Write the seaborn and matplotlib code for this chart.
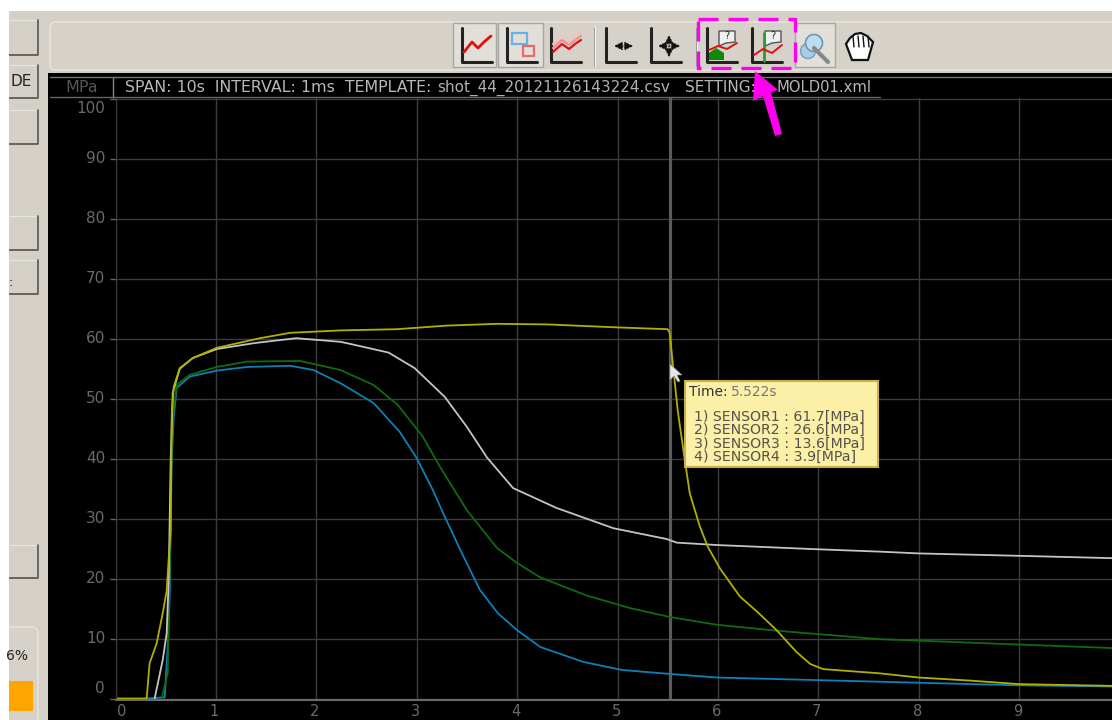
import matplotlib
matplotlib.use('Agg')
import matplotlib.pyplot as plt
import matplotlib.patches as mp
import pandas as pd
import seaborn as sns

sensor1_t = [0, 0.31, 0.34, 0.41, 0.47, 0.51, 0.53, 0.55, 0.56, 0.58, 0.64, 0.77, 1.01, 1.44, 1.74, 2.24, 2.8, 3.3,
             3.8, 4.3, 5, 5.5, 5.52, 5.55, 5.6, 5.67, 5.72, 5.82, 5.9, 6.02, 6.22, 6.39, 6.59, 6.78, 6.92, 7.05,
             7.61, 8, 8.5, 9, 9.95]
sensor1_v = [0, 0, 5.9, 9.2, 14.2, 18, 23.4, 28, 47.3, 52, 55.1, 56.8, 58.5, 60.1, 61, 61.4, 61.6, 62.2,
             62.5, 62.4, 61.9, 61.6, 61, 56, 48, 39.8, 34.2, 28.7, 25.3, 21.7, 17, 14.5, 11.3, 7.8, 5.75, 4.9,
             4.2, 3.5, 3, 2.4, 2.1]
sensor2_t = [0.39, 0.47, 0.51, 0.53, 0.55, 0.57, 0.64, 0.77, 1.01, 1.39, 1.8, 2.24, 2.35, 2.72, 2.98, 3.28, 3.5, 3.7,
             3.96, 4.39, 4.96, 5.49, 5.59, 5.99, 6.98, 7.61, 8, 9, 9.95]
sensor2_v = [0, 6.4, 10.9, 20, 40, 51, 55, 56.8, 58.3, 59.3, 60.1, 59.5, 59.1, 57.7, 55.1, 50.3, 45.3, 40.2,
             35.1, 31.8, 28.4, 26.6, 26, 25.6, 24.9, 24.5, 24.2, 23.8, 23.4]
sensor3_t = [0.46, 0.52, 0.53, 0.55, 0.57, 0.61, 0.74, 1.01, 1.31, 1.84, 2.24, 2.57, 2.81, 3.06, 3.23, 3.5, 3.8, 4.0,
             4.23, 4.69, 5.12, 5.52, 5.99, 6.59, 7.61, 9, 9.95]
sensor3_v = [0, 4.2, 12.5, 35, 47, 52.3, 54, 55.3, 56.2, 56.3, 54.8, 52.3, 49, 43.7, 38.7, 31.4, 25.1, 22.6,
             20.2, 17.2, 15.1, 13.6, 12.3, 11.3, 9.9, 9, 8.4]
sensor4_t = [0.3, 0.49, 0.52, 0.54, 0.56, 0.58, 0.61, 0.74, 1.01, 1.31, 1.74, 1.97, 2.24, 2.57, 2.83, 3.0, 3.16, 3.28,
             3.46, 3.63, 3.81, 4.0, 4.23, 4.66, 5.05, 5.52, 5.99, 7.61, 9, 9.95]
sensor4_v = [0, 0.2, 8.6, 17, 40, 47, 51.8, 53.7, 54.7, 55.3, 55.5, 54.8, 52.6, 49.3, 44.5, 40.1, 34.8, 30.3,
             23.9, 18.1, 14.2, 11.4, 8.6, 6.1, 4.75, 4.1, 3.5, 2.8, 2.2, 2]
sensor_names = ['SENSOR4', 'SENSOR3', 'SENSOR2', 'SENSOR1']
sensor_colors = ['#0f7fb5', '#0f6b0f', '#c4c4c4', '#b0b000']
cursor_time = 5.52
tip_lines = ['1) SENSOR1 : 61.7[MPa]', '2) SENSOR2 : 26.6[MPa]', '3) SENSOR3 : 13.6[MPa]', '4) SENSOR4 : 3.9[MPa]']
x_ticks = list(range(0, 10))
y_ticks = list(range(0, 101, 10))

frames = []
for name, t, v in zip(['SENSOR1', 'SENSOR2', 'SENSOR3', 'SENSOR4'],
                      [sensor1_t, sensor2_t, sensor3_t, sensor4_t],
                      [sensor1_v, sensor2_v, sensor3_v, sensor4_v]):
    frames.append(pd.DataFrame({'time': t, 'mpa': v, 'sensor': name}))
df = pd.concat(frames)

sns.set_style('white')
plt.rcParams['font.family'] = ['DejaVu Sans']
W, H = 1112, 720
fig = plt.figure(figsize=(W / 100, H / 100), dpi=100, facecolor='white')

# background window, in pixel coordinates
ui = fig.add_axes([0, 0, 1, 1], zorder=0)
ui.set_xlim(0, W)
ui.set_ylim(H, 0)
ui.axis('off')
ui.add_patch(mp.Rectangle((9, 11), W - 9, H - 11, fc='#d4d0c8', ec='none'))
ui.add_patch(mp.FancyBboxPatch((50, 22), W, 48, boxstyle='round,pad=0,rounding_size=6', fc='#d6d2ca', ec='#e8e6e0', lw=1))
ui.add_patch(mp.Rectangle((48, 73), W - 48, H - 73, fc='black', ec='none'))

for y0, y1 in [(20, 55), (65, 98), (110, 144), (216, 250), (260, 294), (545, 578)]:
    ui.add_patch(mp.Rectangle((9, y0), 29, y1 - y0, fc='#d4d0c8', ec='none'))
    ui.plot([9, 38, 38], [y0, y0, y1], color='#e8e6e0', lw=0.8)
    ui.plot([9, 38, 38], [y1, y1, y0], color='#55534f', lw=1.2)
ui.text(10, 81, 'DE', fontsize=11, color='#222222', va='center')
ui.text(9, 282, ':', fontsize=9, color='#222222', va='center')
ui.add_patch(mp.FancyBboxPatch((2, 627), 36, 120, boxstyle='round,pad=0,rounding_size=6', fc='#d6d2ca', ec='#e8e6e0', lw=1))
ui.add_patch(mp.Rectangle((0, 0), 9, H, fc='white', ec='none', zorder=3))
ui.add_patch(mp.Rectangle((9, 681), 24, 30, fc='#ffa500', ec='none'))
ui.text(6, 656, '6%', fontsize=10, color='#222222', va='center', clip_on=True)

# header strip
ui.plot([50, W], [77, 77], color='#777777', lw=1)
ui.plot([50, 880], [97, 97], color='#666666', lw=1)
ui.plot([113, 113], [78, 97], color='#888888', lw=1)
ui.text(82, 88, 'MPa', fontsize=11.5, color='#555555', ha='center', va='center')
ui.text(125, 88, 'SPAN: 10s  INTERVAL: 1ms  TEMPLATE:', fontsize=11.4, color='#b8b8b8', va='center')
ui.text(437, 88, 'shot_44_20121126143224.csv', fontsize=11, color='#b0b0b0', va='center')
ui.text(685, 88, 'SETTING:', fontsize=11, color='#b8b8b8', va='center')
ui.text(776, 88, 'MOLD01.xml', fontsize=10.6, color='#b8b8b8', va='center')

# toolbar
def axes_icon(x0):
    ui.plot([x0, x0, x0 + 30], [28, 62, 62], color='#222222', lw=2.2)

for x0, x1 in [(453, 496), (498, 543), (795, 835)]:
    ui.add_patch(mp.Rectangle((x0, 23), x1 - x0, 44, fc='#e2dfd8', ec='#a8a6a0', lw=1))
for x0 in [462, 507, 551, 606, 651, 707, 752]:
    axes_icon(x0)
ui.plot([464, 472, 478, 484, 491], [52, 42, 48, 42, 36], color='#e01010', lw=2)
ui.add_patch(mp.Rectangle((512, 33), 15, 11, fc='none', ec='#6ab0e8', lw=1.6))
ui.add_patch(mp.Rectangle((523, 46), 11, 10, fc='none', ec='#e86a6a', lw=1.6))
for off, col in [(-8, '#f4c0c0'), (-4, '#f09090'), (0, '#e01010')]:
    ui.plot([553, 562, 569, 575, 581], [52 + off, 44 + off, 49 + off, 44 + off, 40 + off], color=col, lw=1.6)
for sx in [595, 697]:
    ui.plot([sx, sx], [27, 66], color='#f4f4f0', lw=1.5)
    ui.plot([sx - 1, sx - 1], [27, 66], color='#9a9a96', lw=0.7)
for a, b in [((611, 46), (636, 46)), ((655, 46), (683, 46)), ((669, 32), (669, 60))]:
    ui.annotate('', a, b, arrowprops=dict(arrowstyle='<|-|>', color='#111111', lw=0.8, ls=':', mutation_scale=13))
ui.add_patch(mp.Polygon([(709, 60), (709, 53), (716, 48), (724, 53), (724, 60)], fc='#0a8a0a', ec='none'))
ui.plot([709, 718, 727, 737], [50, 46, 49, 43], color='#e01010', lw=1.4)
ui.plot([764, 764], [33, 61], color='#2f9a2f', lw=2)
ui.plot([754, 763, 772, 782], [55, 49, 53, 45], color='#e01010', lw=1.4)
for x0 in [719, 765]:
    ui.add_patch(mp.Polygon([(x0, 31), (x0 + 16, 31), (x0 + 16, 42), (x0 + 7, 43), (x0, 46)], fc='#f0f0f0', ec='#555555', lw=1))
    ui.text(x0 + 8, 36, '?', fontsize=7, ha='center', va='center', color='#222222')
ui.plot([814, 828], [48, 62], color='#888888', lw=3)
ui.add_patch(mp.Circle((808, 51), 7.5, fc='#a8cde8', ec='#7a9cb8', lw=1))
ui.add_patch(mp.Circle((814, 43), 8.5, fc='#bcdcf2', ec='#6f94b4', lw=1.2))
ui.add_patch(mp.Polygon([(852, 60), (846, 44), (850, 38), (855, 34), (861, 33), (867, 36), (873, 42), (868, 60)],
                        fc='white', ec='#111111', lw=1.6))
for hx in [853, 858, 863, 868]:
    ui.plot([hx, hx + 1], [36, 47], color='#111111', lw=1)

# chart
ax = fig.add_axes([115.5 / W, 1 - 700 / H, (W - 115.5) / W, (700 - 98) / H], zorder=1)
ax.patch.set_alpha(0)
ax.set_xlim(0, (W - 115.5) / 100.4)
ax.set_ylim((698.5 - 700) / 5.995, (698.5 - 98) / 5.995)
for s in ['top', 'right']:
    ax.spines[s].set_visible(False)
ax.spines['left'].set_color('#3c3c3c')
ax.spines['bottom'].set_color('#6a6a6a')
ax.spines['bottom'].set_linewidth(1.5)
ax.set_xticks(x_ticks)
ax.set_yticks(y_ticks)
ax.grid(True, color='#3c3c3c', lw=1)
ax.set_axisbelow(True)
ax.tick_params(axis='y', length=4, width=1, color='#666666', left=True, labelleft=False)
ax.tick_params(axis='x', length=0, labelbottom=False)
ax.axvline(cursor_time, color='#5a5a5a', lw=2.3, zorder=1.5)
sns.lineplot(data=df, x='time', y='mpa', hue='sensor', hue_order=sensor_names, palette=sensor_colors,
             estimator=None, sort=False, lw=1.3, legend=False, ax=ax)
ax.set_xlabel('')
ax.set_ylabel('')
for v in y_ticks:
    # the end labels sit inside the plot range in the original
    dy = {0: 7, 100: -7}.get(v, 0)
    ax.annotate(str(v), (0, v), xytext=(-7.5, dy), textcoords='offset points', ha='right', va='center',
                fontsize=11, color='#6a6a6a', annotation_clip=False)
for v in x_ticks:
    dx = 4.5 if v == 0 else -1
    ax.annotate(str(v), (v, 0), xytext=(dx, -9.5), textcoords='offset points', ha='center', va='center',
                fontsize=10.5, color='#6a6a6a', annotation_clip=False)

# tooltip and callouts
top = fig.add_axes([0, 0, 1, 1], zorder=2)
top.set_xlim(0, W)
top.set_ylim(H, 0)
top.axis('off')
top.patch.set_alpha(0)
top.add_patch(mp.Rectangle((685, 381), 193, 86, fc='#fcefa8', ec='#c9b14a', lw=1.5))
top.text(689, 392, 'Time:', fontsize=10, color='#333333', va='center')
top.text(731, 392, '5.522s', fontsize=10, color='#777777', va='center')
for i, line in enumerate(tip_lines):
    top.text(694, 417 + i * 13.3, line, fontsize=10.2, color='#55534a', va='center')
top.add_patch(mp.Polygon([(670, 364), (670, 380), (674, 376), (678, 382), (680, 381), (677, 375), (682, 375)],
                         fc='#e8e8e8', ec='#888888', lw=0.5))
top.add_patch(mp.Rectangle((698, 19), 97, 49, fc='none', ec='#ff00ee', lw=2.4, ls=(0, (6, 3))))
top.add_patch(mp.Polygon([(755, 71), (753, 101), (763, 96), (775, 136), (782, 134), (771, 92), (778, 90)],
                         fc='#ff00ee', ec='none'))

fig.savefig('out.png', dpi=100, facecolor='white')
